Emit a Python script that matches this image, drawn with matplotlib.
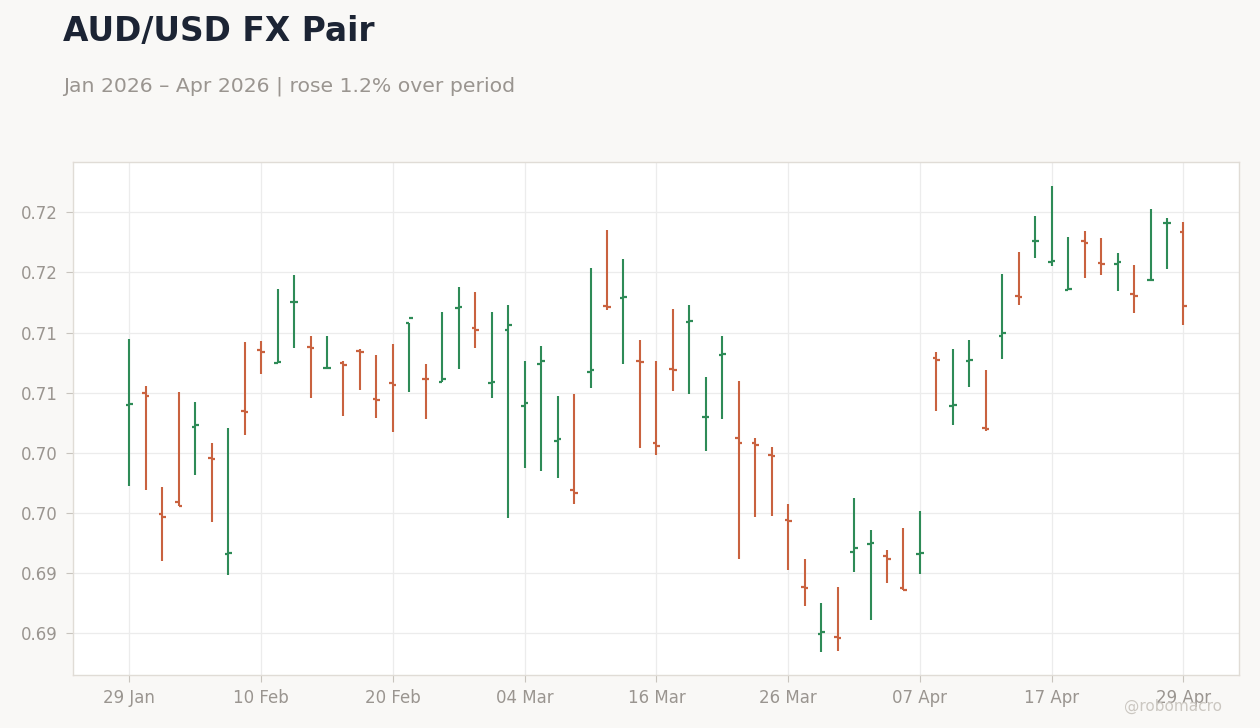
import matplotlib
matplotlib.use("Agg")
import matplotlib.pyplot as plt
import pandas as pd
import numpy as np

# ---- data ----
start_date = "2026-01-29"
end_date = "2026-04-29"
dates = pd.bdate_range(start_date, end_date)

opens = [0.70899, 0.71000, 0.69994, 0.70092, 0.70717, 0.70460, 0.69659, 0.70850, 0.71358, 0.71247,
         0.71757, 0.71383, 0.71203, 0.71250, 0.71344, 0.70950, 0.71078, 0.71582, 0.71118, 0.71089,
         0.71707, 0.71540, 0.71082, 0.71524, 0.70892, 0.71241, 0.70601, 0.70194, 0.71175, 0.71723,
         0.71790, 0.71266, 0.70584, 0.71200, 0.71590, 0.70796, 0.71314, 0.70626, 0.70584, 0.70485,
         0.69944, 0.69387, 0.68997, 0.68965, 0.69678, 0.69743, 0.69645, 0.69379, 0.69662, 0.71291,
         0.70892, 0.71264, 0.70709, 0.71474, 0.71807, 0.72262, 0.72089, 0.71855, 0.72264, 0.72081,
         0.72072, 0.71823, 0.71937, 0.72412, 0.72339]
highs = [0.71447, 0.71056, 0.70216, 0.71006, 0.70923, 0.70582, 0.70707, 0.71422, 0.71430, 0.71862,
         0.71979, 0.71471, 0.71471, 0.71261, 0.71361, 0.71314, 0.71405, 0.71580, 0.71239, 0.71671,
         0.71879, 0.71837, 0.71671, 0.71729, 0.71264, 0.71388, 0.70973, 0.70989, 0.72037, 0.72353,
         0.72112, 0.71438, 0.71264, 0.71696, 0.71729, 0.71131, 0.71471, 0.71097, 0.70624, 0.70549,
         0.70075, 0.69618, 0.69252, 0.69387, 0.70125, 0.69859, 0.69692, 0.69875, 0.70017, 0.71338,
         0.71363, 0.71438, 0.71189, 0.71987, 0.72170, 0.72469, 0.72718, 0.72294, 0.72344, 0.72286,
         0.72161, 0.72062, 0.72527, 0.72452, 0.72419]
lows = [0.70227, 0.70194, 0.69604, 0.70058, 0.70318, 0.69928, 0.69487, 0.70651, 0.71158, 0.71247,
        0.71374, 0.70959, 0.71197, 0.70809, 0.71025, 0.70792, 0.70676, 0.71008, 0.70784, 0.71089,
        0.71200, 0.71374, 0.70959, 0.69961, 0.70377, 0.70352, 0.70294, 0.70077, 0.71042, 0.71690,
        0.71241, 0.70543, 0.70485, 0.71017, 0.70992, 0.70518, 0.70784, 0.69620, 0.69969, 0.69978,
        0.69529, 0.69229, 0.68847, 0.68855, 0.69512, 0.69113, 0.69421, 0.69360, 0.69495, 0.70850,
        0.70734, 0.71050, 0.70679, 0.71283, 0.71732, 0.72122, 0.72056, 0.71855, 0.71956, 0.71981,
        0.71848, 0.71665, 0.71930, 0.72031, 0.71565]
closes = [0.70902, 0.70975, 0.69969, 0.70061, 0.70734, 0.70451, 0.69670, 0.70842, 0.71341, 0.71258,
          0.71758, 0.71374, 0.71208, 0.71233, 0.71341, 0.70942, 0.71067, 0.71624, 0.71115, 0.71117,
          0.71715, 0.71524, 0.71085, 0.71565, 0.70917, 0.71266, 0.70618, 0.70166, 0.71191, 0.71713,
          0.71798, 0.71258, 0.70560, 0.71191, 0.71599, 0.70800, 0.71318, 0.70584, 0.70568, 0.70476,
          0.69936, 0.69379, 0.69013, 0.68962, 0.69712, 0.69747, 0.69620, 0.69362, 0.69670, 0.71274,
          0.70900, 0.71268, 0.70701, 0.71499, 0.71798, 0.72265, 0.72097, 0.71858, 0.72247, 0.72072,
          0.72089, 0.71807, 0.71941, 0.72415, 0.71723]

title = "AUD/USD FX Pair"
subtitle = "Jan 2026 \u2013 Apr 2026 | rose 1.2% over period"
watermark = "@robomacro"

# ---- style ----
UP = "#2e8b57"
DOWN = "#c9623f"
BG = "#f9f8f6"
GRID = "#ececec"
TXT = "#9a9590"

fig = plt.figure(figsize=(12.6, 7.28), dpi=100, facecolor=BG)
ax = fig.add_axes([73/1260, 1-675/728, (1239-73)/1260, (675-162)/728])
ax.set_facecolor("white")

x = np.arange(len(dates))
tick_len = 0.22
for i in x:
    o, h, l, c = opens[i], highs[i], lows[i], closes[i]
    col = UP if c >= o else DOWN
    ax.vlines(i, l, h, color=col, linewidth=1.5, zorder=3)
    ax.hlines(o, i - tick_len, i, color=col, linewidth=1.6, zorder=3)
    ax.hlines(c, i, i + tick_len, color=col, linewidth=1.6, zorder=3)

ax.set_xlim(-3.42, 67.37)
ax.set_ylim(0.68653, 0.72918)

ax.set_yticks(np.arange(0.690, 0.7251, 0.005))
ax.yaxis.set_major_formatter(matplotlib.ticker.FormatStrFormatter("%.2f"))
xt = x[::8]
ax.set_xticks(xt)
ax.set_xticklabels([dates[i].strftime("%d %b") for i in xt])

ax.grid(True, color=GRID, linewidth=0.9, zorder=0)
ax.set_axisbelow(True)
for s in ax.spines.values():
    s.set_color("#e0dcd6")
    s.set_linewidth(1.0)
ax.tick_params(axis="both", colors="#c8c4be", labelcolor=TXT, labelsize=12, length=5, width=0.8)
ax.tick_params(axis="y", pad=6)
ax.tick_params(axis="x", pad=5)

fig.text(63/1260, 1-41/728, title, fontsize=23.7, fontweight="bold", color="#1c2434",
         ha="left", va="baseline")
fig.text(63/1260, 1-91.5/728, subtitle, fontsize=14.65, color=TXT, ha="left", va="baseline")
fig.text(1222/1260, 1-711/728, watermark, fontsize=11, color="#cbc7c1", ha="right", va="baseline")

fig.savefig("out.png", dpi=100, facecolor=BG)
